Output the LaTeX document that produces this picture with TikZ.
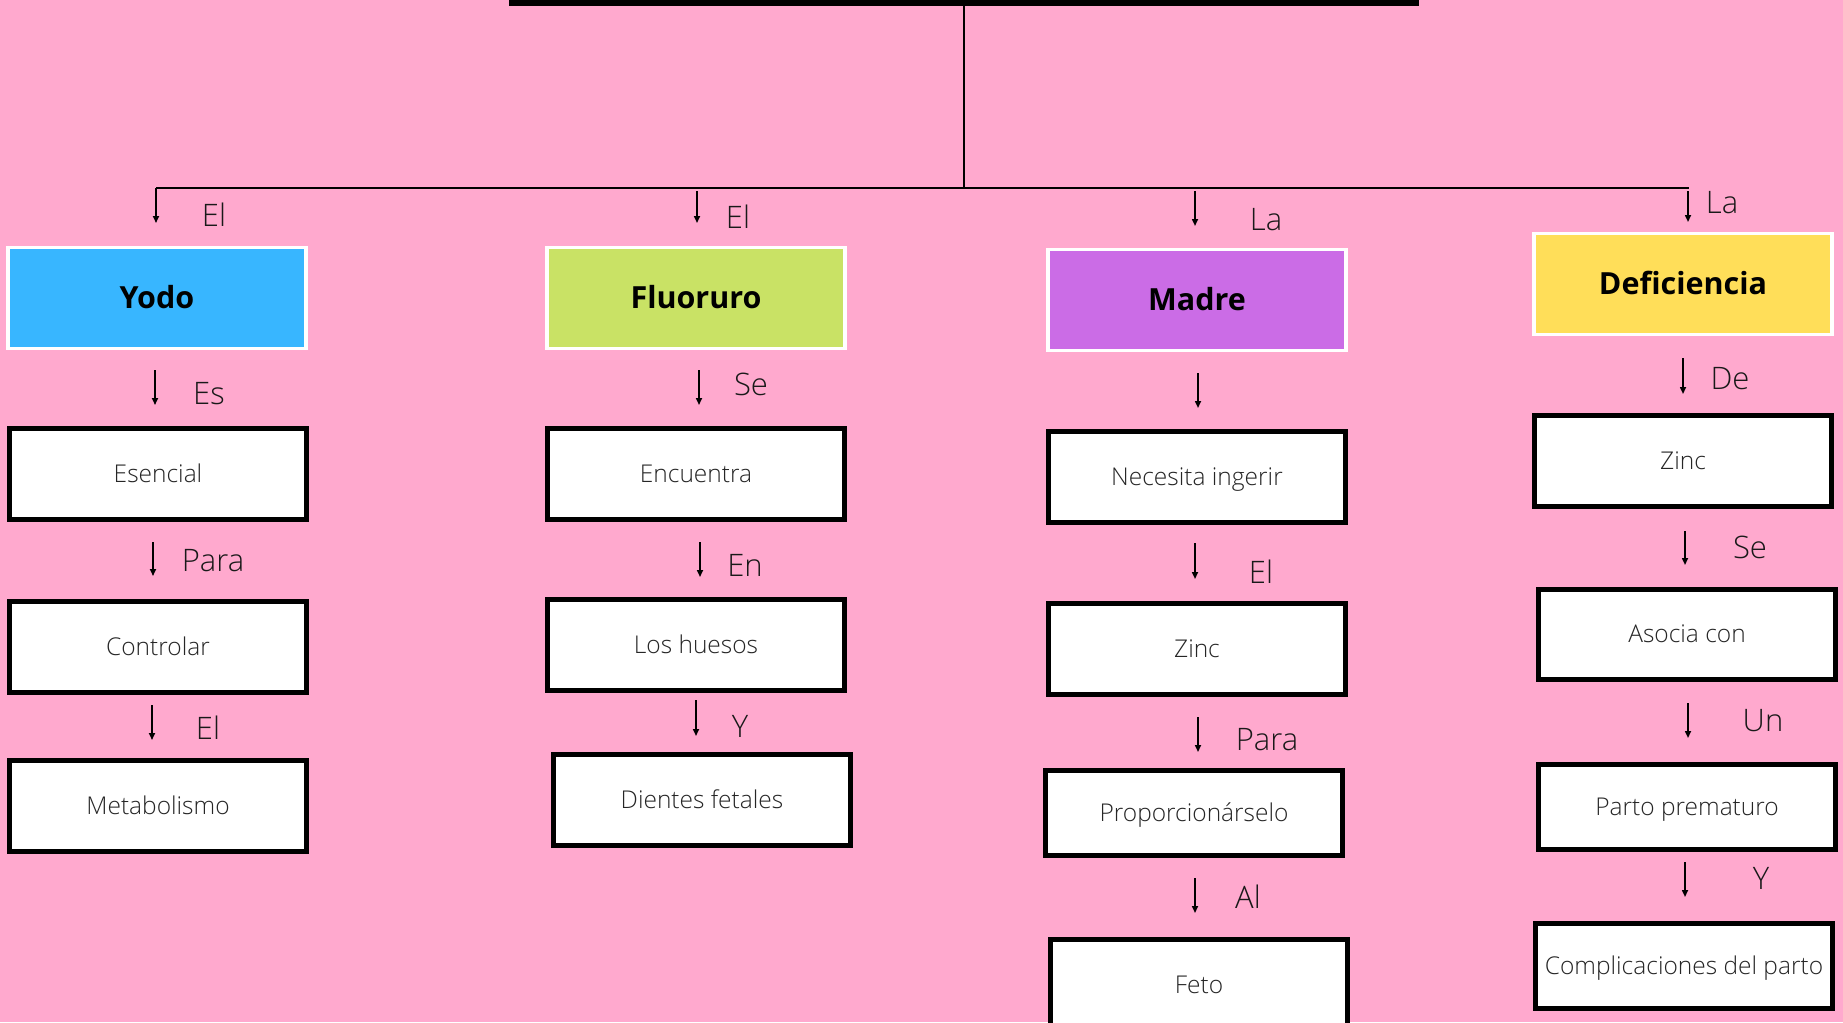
\documentclass[tikz,border=0pt]{standalone}
\usepackage{fontspec}
\setmainfont{Open Sans}
\newfontfamily\lightfont{Open Sans Light}
\usetikzlibrary{arrows.meta,positioning}
\definecolor{bgpink}{HTML}{FFA9CE}
\definecolor{topblue}{HTML}{5271FF}
\definecolor{yodoblue}{HTML}{38B6FF}
\definecolor{fluorgreen}{HTML}{C9E265}
\definecolor{madrepurple}{HTML}{CB6CE6}
\definecolor{defyellow}{HTML}{FFDE59}

\begin{document}
\begin{tikzpicture}
  [
    x=1pt, y=-1pt,
    Top/.style={rectangle, draw=black, fill=topblue, line width=6pt, minimum width=904pt, minimum height=60pt, inner sep=0pt},
    Head/.style={rectangle, draw=white, line width=3.5pt, minimum width=298pt, minimum height=101pt, inner sep=0pt, text height=21.5pt, text depth=0pt, font=\fontsize{30.5}{34}\selectfont\bfseries},
    Blue/.style={Head, fill=yodoblue},
    Green/.style={Head, fill=fluorgreen},
    Purple/.style={Head, fill=madrepurple},
    Yellow/.style={Head, fill=defyellow},
    Box/.style={rectangle, draw=black, fill=white, line width=5pt, minimum width=297pt, minimum height=91pt, inner sep=0pt, text height=17.6pt, text depth=0pt, text=black!85, font=\lightfont\fontsize{24.5}{28}\selectfont},
    Word/.style={inner sep=0pt, text height=22pt, text depth=0pt, text=black!90, font=\lightfont\fontsize{31}{34}\selectfont},
    Arrow/.style={-{Triangle[length=7pt,width=6pt]}, line width=1.6pt},
    Line/.style={line width=2.2pt}
  ]
  \useasboundingbox (0,0) rectangle (1843,1022);
  \fill[bgpink] (0,0) rectangle (1843,1022);
  \clip (0,0) rectangle (1843,1022);
  % Title and tree
  \node[Top] (title) at (964,-27) {};
  \coordinate (hub) at (964,188);
  \coordinate (hubL) at (156,188);
  \coordinate (hubR) at (1689,188);
  \draw[Line] (title.south) -- (hub);
  \draw[Line] (hubL) -- (hubR);
  % Headers
  \node[Blue] (yodo) at (157,298) {Yodo};
  \node[Green] (fluor) at (696,298) {Fluoruro};
  \node[Purple] (madre) at (1197,300) {Madre};
  \node[Yellow] (defic) at (1683,284) {Deficiencia};
  % Yodo column
  \node[Box] (esencial) at (158,474) {Esencial};
  \node[Box] (controlar) at (158,647) {Controlar};
  \node[Box] (metab) at (158,806) {Metabolismo};
  % Fluoruro column
  \node[Box] (encuentra) at (696,474) {Encuentra};
  \node[Box] (huesos) at (696,645) {Los huesos};
  \node[Box] (dientes) at (702,800) {Dientes fetales};
  % Madre column
  \node[Box] (ingerir) at (1197,477) {Necesita ingerir};
  \node[Box] (zincA) at (1197,649) {Zinc};
  \node[Box, minimum height=85.5pt] (proporc) at (1194,813) {Proporcionárselo};
  \node[Box] (feto) at (1199,985) {Feto};
  % Deficiencia column
  \node[Box] (zincB) at (1683,461) {Zinc};
  \node[Box, minimum height=90pt] (asocia) at (1687,634) {Asocia con};
  \node[Box, minimum height=85.5pt] (parto) at (1687,807) {Parto prematuro};
  \node[Box, minimum height=85.5pt] (compl) at (1684,966) {Complicaciones del parto};
  % Arrows with words
  \foreach \n/\x/\ya/\yb/\lx/\ly/\t in {
      a1/156/188/223/214/215/El, a2/697/191/223/738/217/El,
      a3/1195/191/226/1266/219/La, a4/1688/191/222/1722/202/La,
      b1/155/370/405/209/393/Es, b2/153/542/576/213/560/Para,
      b3/152/705/740/208/728/El,
      c1/699/370/405/751/384/Se, c2/700/542/577/745/565/En,
      c3/696/700/736/740/726/Y,
      d2/1195/543/579/1261/572/El, d3/1198/717/752/1267/739/Para,
      d4/1195/878/913/1248/897/Al,
      e1/1683/358/394/1730/378/De, e2/1685/531/565/1750/547/Se,
      e3/1688/703/738/1763/720/Un, e4/1685/862/897/1761/878/Y}
  {
    \coordinate (\n-s) at (\x,\ya);
    \coordinate (\n-e) at (\x,\yb);
    \draw[Arrow] (\n-s) -- (\n-e);
    \node[Word] (\n-w) at (\lx,\ly) {\t};
  }
  % Arrow without word
  \coordinate (d1-s) at (1198,373);
  \coordinate (d1-e) at (1198,408);
  \draw[Arrow] (d1-s) -- (d1-e);
\end{tikzpicture}
\end{document}
